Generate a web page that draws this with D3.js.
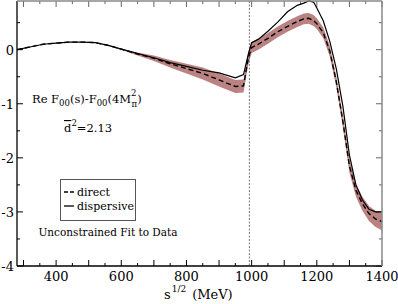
<!DOCTYPE html>
<html>
<head>
<meta charset="utf-8">
<script src="https://cdn.jsdelivr.net/npm/d3@7"></script>
<style>
  body { margin: 0; background: #fff; }
</style>
</head>
<body>
<div id="chart"></div>
<script>
// energies (MeV)
var energy = [280, 320, 360, 400, 440, 480, 520, 560, 600, 650, 700, 750, 800, 850, 900, 950, 975, 990, 1000,
              1020, 1050, 1080, 1110, 1140, 1160, 1175, 1190, 1200, 1220, 1240, 1260, 1280, 1300, 1320, 1340, 1360, 1380, 1400];
// dispersive (solid)
var dispersive = [0, 0.05, 0.10, 0.12, 0.14, 0.14, 0.13, 0.08, 0.01, -0.07, -0.15, -0.24, -0.31, -0.38, -0.43, -0.52, -0.46, -0.08, 0.13,
                  0.19, 0.34, 0.51, 0.70, 0.82, 0.86, 0.90, 0.88, 0.77, 0.53, 0.15, -0.36, -1.05, -1.95, -2.50, -2.78, -2.95, -3.00, -3.00];
// direct (dashed)
var direct = [0, 0.05, 0.10, 0.12, 0.14, 0.14, 0.13, 0.08, 0.01, -0.08, -0.16, -0.26, -0.35, -0.44, -0.56, -0.68, -0.67, -0.15, 0.04,
              0.10, 0.21, 0.33, 0.43, 0.52, 0.57, 0.58, 0.54, 0.48, 0.31, -0.03, -0.60, -1.33, -2.15, -2.60, -2.85, -3.03, -3.13, -3.18];
// error band half-width around direct
var bandErr = [0, 0, 0, 0, 0, 0, 0, 0.005, 0.01, 0.03, 0.05, 0.07, 0.09, 0.11, 0.12, 0.12, 0.12, 0.11, 0.1,
               0.1, 0.1, 0.1, 0.1, 0.1, 0.1, 0.1, 0.1, 0.1, 0.1, 0.1, 0.1, 0.11, 0.12, 0.12, 0.13, 0.14, 0.15, 0.16];
var xTicks = [400, 600, 800, 1000, 1200, 1400];
var yTicks = [0, -1, -2, -3, -4];
var kkThreshold = 993;

var serif = "'DejaVu Serif', 'Liberation Serif', serif";

var svg = d3.select("#chart").append("svg")
    .attr("width", 398)
    .attr("height", 304)
    .attr("font-family", serif)
    .style("font-family", serif);

var margin = {top: 1, right: 16, bottom: 38, left: 17};
var width = 398 - margin.left - margin.right;
var height = 304 - margin.top - margin.bottom;

var x = d3.scaleLinear().domain([280, 1400]).range([0, width]);
var y = d3.scaleLinear().domain([-4, 0.9]).range([height, 0]);

var g = svg.append("g")
    .attr("transform", "translate(" + margin.left + "," + margin.top + ")");

var data = energy.map(function(e, i) {
  return {e: e, disp: dispersive[i], dir: direct[i], err: bandErr[i]};
});

// band
var band = d3.area()
    .x(function(d) { return x(d.e); })
    .y0(function(d) { return y(d.dir - d.err); })
    .y1(function(d) { return y(d.dir + d.err); });

g.append("path")
    .datum(data)
    .attr("d", band)
    .style("fill", "#bb8282")
    .style("stroke", "none");

// K Kbar threshold line
g.append("line")
    .attr("x1", x(kkThreshold)).attr("x2", x(kkThreshold))
    .attr("y1", 0).attr("y2", height)
    .style("stroke", "#777")
    .style("stroke-width", 1)
    .style("stroke-dasharray", "2,1.5");

var lineDir = d3.line()
    .x(function(d) { return x(d.e); })
    .y(function(d) { return y(d.dir); });
var lineDisp = d3.line()
    .x(function(d) { return x(d.e); })
    .y(function(d) { return y(d.disp); });

g.append("path")
    .datum(data)
    .attr("d", lineDir)
    .style("fill", "none")
    .style("stroke", "#000")
    .style("stroke-width", 1.4)
    .style("stroke-dasharray", "5,3");

g.append("path")
    .datum(data)
    .attr("d", lineDisp)
    .style("fill", "none")
    .style("stroke", "#000")
    .style("stroke-width", 1.2);

// axes (ticks inward)
var xMinor = d3.range(300, 1401, 50);
var yMinor = d3.range(-4, 0.91, 0.5);

function xTickLines(sel, y0, dir) {
  sel.selectAll("line.xt").data(xMinor).enter().append("line")
      .attr("x1", function(d) { return x(d); })
      .attr("x2", function(d) { return x(d); })
      .attr("y1", y0)
      .attr("y2", function(d) { return y0 + dir * (d % 100 === 0 ? 6 : 3); })
      .style("stroke", "#000");
}
function yTickLines(sel, x0, dir) {
  sel.selectAll("line.yt").data(yMinor).enter().append("line")
      .attr("y1", function(d) { return y(d); })
      .attr("y2", function(d) { return y(d); })
      .attr("x1", x0)
      .attr("x2", function(d) { return x0 + dir * (Math.abs(d % 1) < 1e-6 ? 6 : 3); })
      .style("stroke", "#000");
}
xTickLines(g.append("g"), height, -1);
xTickLines(g.append("g").style("opacity", 0.6), 0, 1);
yTickLines(g.append("g"), 0, 1);
yTickLines(g.append("g").style("opacity", 0.6), width, -1);

// frame
g.append("line").attr("x1", 0).attr("x2", width).attr("y1", height).attr("y2", height)
    .style("stroke", "#000").style("stroke-width", 1.3);
g.append("line").attr("x1", 0).attr("x2", 0).attr("y1", 0).attr("y2", height)
    .style("stroke", "#000").style("stroke-width", 1.3);
g.append("line").attr("x1", 0).attr("x2", width).attr("y1", 0).attr("y2", 0)
    .style("stroke", "#888").style("stroke-width", 1.5);
g.append("line").attr("x1", width).attr("x2", width).attr("y1", 0).attr("y2", height)
    .style("stroke", "#888").style("stroke-width", 1.5);

// tick labels
g.selectAll("text.xl").data(xTicks).enter().append("text")
    .attr("x", function(d) { return x(d); })
    .attr("y", height + 15)
    .attr("text-anchor", "middle")
    .style("font-size", "13px")
    .text(function(d) { return d; });

g.selectAll("text.yl").data(yTicks).enter().append("text")
    .attr("x", -3)
    .attr("y", function(d) { return y(d) + 5; })
    .attr("text-anchor", "end")
    .style("font-size", "13px")
    .text(function(d) { return d; });

// x axis title
var xt = svg.append("text")
    .attr("x", 164)
    .attr("y", 299)
    .style("font-size", "13px");
xt.append("tspan").text("s");
xt.append("tspan").attr("dy", -7).attr("dx", 1).style("font-size", "9px").text("1/2");
xt.append("tspan").attr("dy", 7).attr("dx", 6).text("(MeV)");

// annotations
var t1 = svg.append("text")
    .attr("x", 32)
    .attr("y", 103)
    .style("font-size", "11.5px");
t1.append("tspan").text("Re F");
t1.append("tspan").attr("dy", 3).style("font-size", "8.5px").text("00");
t1.append("tspan").attr("dy", -3).text("(s)-F");
t1.append("tspan").attr("dy", 3).style("font-size", "8.5px").text("00");
t1.append("tspan").attr("dy", -3).text("(4M");
t1.append("tspan").attr("dy", -7).style("font-size", "8.5px").text("2");
t1.append("tspan").attr("dy", 11).attr("dx", -5).style("font-size", "8.5px").text("π");
t1.append("tspan").attr("dy", -4).text(")");

var t2 = svg.append("text")
    .attr("x", 64)
    .attr("y", 132)
    .style("font-size", "11.5px");
t2.append("tspan").style("text-decoration", "overline").text("d");
t2.append("tspan").attr("dy", -6).style("font-size", "8.5px").text("2");
t2.append("tspan").attr("dy", 6).text("=2.13");

// legend
svg.append("rect")
    .attr("x", 60.5).attr("y", 179.5)
    .attr("width", 75).attr("height", 41)
    .style("fill", "#fff")
    .style("stroke", "#555")
    .style("stroke-width", 1);

svg.append("line")
    .attr("x1", 64).attr("x2", 74).attr("y1", 192).attr("y2", 192)
    .style("stroke", "#000").style("stroke-width", 1.3)
    .style("stroke-dasharray", "4,2");
svg.append("line")
    .attr("x1", 64).attr("x2", 74).attr("y1", 206).attr("y2", 206)
    .style("stroke", "#000").style("stroke-width", 1.3);
svg.append("text").attr("x", 77).attr("y", 196)
    .style("font-size", "11px").text("direct");
svg.append("text").attr("x", 77).attr("y", 210)
    .style("font-size", "11px").text("dispersive");

svg.append("text")
    .attr("x", 108).attr("y", 236)
    .attr("text-anchor", "middle")
    .style("font-size", "10.5px")
    .text("Unconstrained Fit to Data");
</script>
</body>
</html>
